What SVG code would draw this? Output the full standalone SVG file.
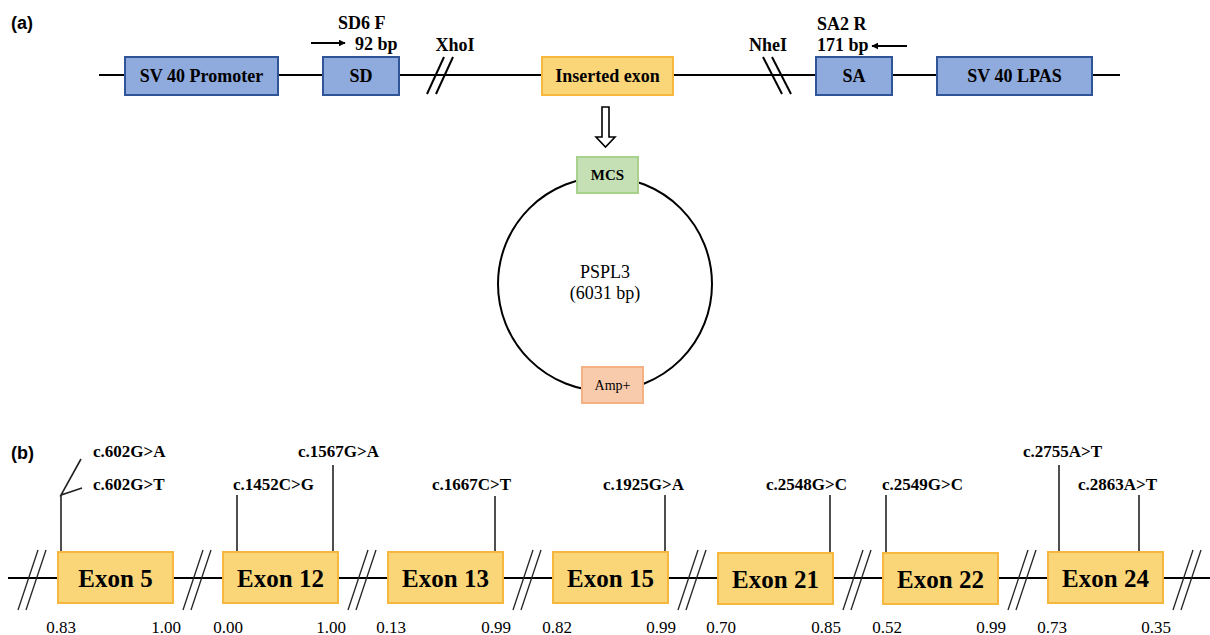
<svg xmlns="http://www.w3.org/2000/svg" width="1210" height="635" viewBox="0 0 1210 635">
<style>
.bg{fill:#ffffff}
.lbl{font-family:"Liberation Sans",Arial,sans-serif;font-weight:bold;font-size:18px;fill:#000}
.tb{font-family:"Liberation Serif","Times New Roman",serif;font-weight:bold;fill:#000}
.tr{font-family:"Liberation Serif","Times New Roman",serif;fill:#000}
.blue{fill:#8FAADC;stroke:#2F5597;stroke-width:2}
.gold{fill:#FBD679;stroke:#F5B73D;stroke-width:2}
.green{fill:#C5E0B4;stroke:#A9D18E;stroke-width:2}
.pink{fill:#F8CBAD;stroke:#F4B183;stroke-width:2}
.main{stroke:#000;stroke-width:2.2;fill:none}
.cut{stroke:#000;stroke-width:2;fill:none}
.cutb{stroke:#222;stroke-width:1.3;fill:none}
.mut{stroke:#222;stroke-width:1.6;fill:none}
</style>
<defs>
<marker id="ah" viewBox="0 0 10 10" refX="9" refY="5" markerWidth="7" markerHeight="7" markerUnits="userSpaceOnUse" orient="auto">
<path d="M0,0 L10,5 L0,10 z" fill="#000"/>
</marker>
</defs>
<rect class="bg" x="0" y="0" width="1210" height="635"/>

<text class="lbl" x="11" y="29">(a)</text>
<text class="lbl" x="11" y="459">(b)</text>

<g id="connectors">
<line class="main" x1="99" y1="75" x2="1120" y2="75"/>
<line class="cut" x1="427" y1="94" x2="444" y2="57"/>
<line class="cut" x1="436" y1="94" x2="453" y2="57"/>
<line class="cut" x1="763" y1="57" x2="782" y2="94"/>
<line class="cut" x1="772" y1="57" x2="791" y2="94"/>
<line x1="311" y1="43" x2="345" y2="43" stroke="#000" stroke-width="1.8" marker-end="url(#ah)"/>
<line x1="907" y1="46" x2="872" y2="46" stroke="#000" stroke-width="1.8" marker-end="url(#ah)"/>
<path d="M602,107 L609,107 L609,137 L615,137 L605.5,147 L596,137 L602,137 Z" fill="#fff" stroke="#000" stroke-width="1.6"/>
<circle cx="605" cy="284" r="107" fill="none" stroke="#000" stroke-width="2"/>

<line class="main" x1="8" y1="578" x2="1210" y2="578" stroke-width="2.6"/>
<g class="cutb">
<line x1="18" y1="610" x2="38" y2="550"/><line x1="26" y1="610" x2="46" y2="550"/>
<line x1="183" y1="610" x2="203" y2="550"/><line x1="191" y1="610" x2="211" y2="550"/>
<line x1="348" y1="610" x2="368" y2="550"/><line x1="356" y1="610" x2="376" y2="550"/>
<line x1="513" y1="610" x2="533" y2="550"/><line x1="521" y1="610" x2="541" y2="550"/>
<line x1="678" y1="610" x2="698" y2="550"/><line x1="686" y1="610" x2="706" y2="550"/>
<line x1="843" y1="610" x2="863" y2="550"/><line x1="851" y1="610" x2="871" y2="550"/>
<line x1="1008" y1="610" x2="1028" y2="550"/><line x1="1016" y1="610" x2="1036" y2="550"/>
<line x1="1173" y1="610" x2="1193" y2="550"/><line x1="1181" y1="610" x2="1201" y2="550"/>
</g>
<g class="mut">
<polyline points="81,459 61,495 82,488"/>
<line x1="61" y1="495" x2="61" y2="552"/>
<line x1="237" y1="495" x2="237" y2="552"/>
<line x1="333" y1="465" x2="333" y2="552"/>
<line x1="495" y1="496" x2="495" y2="552"/>
<line x1="665" y1="495" x2="665" y2="552"/>
<line x1="830" y1="495" x2="830" y2="553"/>
<line x1="886" y1="495" x2="886" y2="553"/>
<line x1="1059" y1="465" x2="1059" y2="552"/>
<line x1="1139" y1="495" x2="1139" y2="552"/>
</g>
</g>

<g id="sv40-promoter"><rect class="blue" x="125" y="57" width="153" height="38"/><text class="tb" x="201.5" y="82" font-size="18" text-anchor="middle">SV 40 Promoter</text></g>
<g id="sd"><rect class="blue" x="323" y="57" width="76" height="38"/><text class="tb" x="361" y="82" font-size="18" text-anchor="middle">SD</text></g>
<g id="sd6f"><text class="tb" x="338" y="29" font-size="18">SD6 F</text><text class="tb" x="355" y="50" font-size="18">92 bp</text></g>
<g id="xhoi"><text class="tb" x="455" y="51" font-size="18" text-anchor="middle">XhoI</text></g>
<g id="inserted-exon"><rect class="gold" x="542" y="57" width="131" height="38"/><text class="tb" x="607.5" y="82" font-size="18" text-anchor="middle">Inserted exon</text></g>
<g id="nhei"><text class="tb" x="768" y="51" font-size="18" text-anchor="middle">NheI</text></g>
<g id="sa"><rect class="blue" x="816" y="57" width="76" height="38"/><text class="tb" x="854" y="82" font-size="18" text-anchor="middle">SA</text></g>
<g id="sa2r"><text class="tb" x="817" y="30" font-size="18">SA2 R</text><text class="tb" x="817" y="51" font-size="18">171 bp</text></g>
<g id="sv40-lpas"><rect class="blue" x="937" y="57" width="155" height="38"/><text class="tb" x="1014.5" y="82" font-size="18" text-anchor="middle">SV 40 LPAS</text></g>

<g id="pspl3"><text class="tr" x="605" y="278" font-size="18" text-anchor="middle">PSPL3</text><text class="tr" x="605" y="299" font-size="18" text-anchor="middle">(6031 bp)</text></g>
<g id="mcs"><rect class="green" x="577" y="157" width="61" height="36"/><text class="tb" x="607.5" y="180" font-size="15" text-anchor="middle">MCS</text></g>
<g id="amp"><rect class="pink" x="582" y="367" width="61" height="36"/><text class="tr" x="612.5" y="390" font-size="14" text-anchor="middle">Amp+</text></g>

<g id="exon5"><rect class="gold" x="58" y="552" width="115" height="51"/><text class="tb" x="115.5" y="587" font-size="25" text-anchor="middle">Exon 5</text></g>
<g id="exon12"><rect class="gold" x="223" y="552" width="115" height="51"/><text class="tb" x="280.5" y="587" font-size="25" text-anchor="middle">Exon 12</text></g>
<g id="exon13"><rect class="gold" x="388" y="552" width="115" height="51"/><text class="tb" x="445.5" y="587" font-size="25" text-anchor="middle">Exon 13</text></g>
<g id="exon15"><rect class="gold" x="553" y="552" width="115" height="51"/><text class="tb" x="610.5" y="587" font-size="25" text-anchor="middle">Exon 15</text></g>
<g id="exon21"><rect class="gold" x="718" y="553" width="115" height="51"/><text class="tb" x="775.5" y="588" font-size="25" text-anchor="middle">Exon 21</text></g>
<g id="exon22"><rect class="gold" x="883" y="553" width="115" height="51"/><text class="tb" x="940.5" y="588" font-size="25" text-anchor="middle">Exon 22</text></g>
<g id="exon24"><rect class="gold" x="1048" y="552" width="115" height="51"/><text class="tb" x="1105.5" y="587" font-size="25" text-anchor="middle">Exon 24</text></g>

<g id="mutations" class="tb" font-size="17">
<text x="93" y="457">c.602G&gt;A</text>
<text x="93" y="490">c.602G&gt;T</text>
<text x="233" y="490">c.1452C&gt;G</text>
<text x="298" y="457">c.1567G&gt;A</text>
<text x="432" y="490">c.1667C&gt;T</text>
<text x="603" y="490">c.1925G&gt;A</text>
<text x="766" y="490">c.2548G&gt;C</text>
<text x="882" y="490">c.2549G&gt;C</text>
<text x="1023" y="457">c.2755A&gt;T</text>
<text x="1078" y="490">c.2863A&gt;T</text>
</g>

<g id="scores" class="tr" font-size="17" text-anchor="middle">
<text x="61" y="633">0.83</text>
<text x="166" y="633">1.00</text>
<text x="228" y="633">0.00</text>
<text x="331" y="633">1.00</text>
<text x="391" y="633">0.13</text>
<text x="496" y="633">0.99</text>
<text x="557" y="633">0.82</text>
<text x="661" y="633">0.99</text>
<text x="721" y="633">0.70</text>
<text x="826" y="633">0.85</text>
<text x="887" y="633">0.52</text>
<text x="991" y="633">0.99</text>
<text x="1052" y="633">0.73</text>
<text x="1156" y="633">0.35</text>
</g>
</svg>
